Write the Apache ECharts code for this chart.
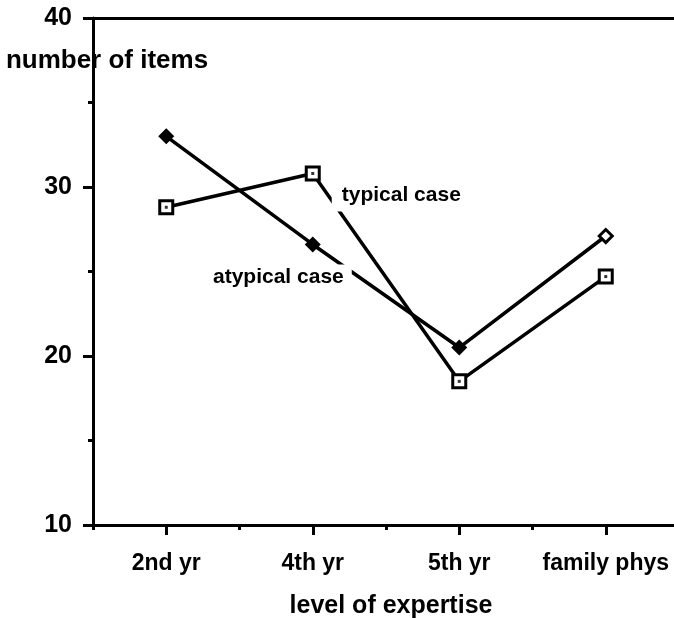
<!DOCTYPE html>
<html>
<head>
<meta charset="utf-8">
<script src="https://cdn.jsdelivr.net/npm/echarts@6/dist/echarts.min.js"></script>
<style>
  html, body { margin: 0; padding: 0; background: #fff; }
  #chart { width: 674px; height: 618px; }
</style>
</head>
<body>
<div id="chart"></div>
<script>
const categories = ['2nd yr', '4th yr', '5th yr', 'family phys'];
const typicalValues = [28.8, 30.8, 18.5, 24.7];
const atypicalValues = [33.0, 26.6, 20.5, 27.1];
const yMin = 10, yMax = 40, yStep = 10;

const font = 'Liberation Sans, Arial, sans-serif';
const ink = '#000';

const chart = echarts.init(document.getElementById('chart'));

// typical series: open squares, label on the 4th yr point
const typicalData = typicalValues.map((v, i) => {
  if (i !== 1) return v;
  return {
    value: v,
    label: {
      show: true,
      formatter: 'typical case',
      position: [27, 17],
      align: 'left',
      verticalAlign: 'top',
      color: ink,
      fontSize: 21,
      fontWeight: 'bold',
      fontFamily: font,
      backgroundColor: '#fff',
      padding: [2, 4, 6, 10]
    }
  };
});

// atypical series: filled diamonds, last one hollow
const atypicalData = atypicalValues.map((v, i) => {
  if (i === 1) {
    return {
      value: v,
      label: {
        show: true,
        formatter: 'atypical case',
        position: [47, 28],
        align: 'right',
        verticalAlign: 'top',
        color: ink,
        fontSize: 21,
        fontWeight: 'bold',
        fontFamily: font,
        backgroundColor: '#fff',
        padding: [2, 8, 2, 4]
      }
    };
  }
  if (i === atypicalValues.length - 1) {
    return { value: v, symbolSize: 13, itemStyle: { color: '#fff', borderColor: ink, borderWidth: 3 } };
  }
  return v;
});

const option = {
  animation: false,
  grid: { left: 93, top: 18, width: 586, bottom: 93, containLabel: false, outerBoundsMode: 'none' },
  xAxis: [
    {
      type: 'category',
      data: categories,
      boundaryGap: true,
      position: 'bottom',
      axisLine: { lineStyle: { color: ink, width: 3 } },
      axisTick: { show: true, alignWithLabel: true, interval: 0, length: 10, lineStyle: { color: ink, width: 3 } },
      axisLabel: { color: ink, fontSize: 23, fontWeight: 'bold', fontFamily: font, margin: 27, interval: 0, hideOverlap: false },
      name: 'level of expertise',
      nameLocation: 'middle',
      nameGap: 69,
      nameTextStyle: { color: ink, fontSize: 25, fontWeight: 'bold', fontFamily: font, padding: [0, 0, 0, 10] }
    },
    {
      // short ticks between categories
      type: 'category',
      data: categories,
      boundaryGap: true,
      position: 'bottom',
      axisLine: { show: false },
      axisTick: { show: true, interval: 0, length: 5, lineStyle: { color: ink, width: 3 } },
      axisLabel: { show: false }
    },
    {
      // top frame line
      type: 'category',
      data: categories,
      position: 'top',
      axisLine: { lineStyle: { color: ink, width: 3 } },
      axisTick: { show: false },
      axisLabel: { show: false }
    }
  ],
  yAxis: {
    type: 'value',
    min: yMin,
    max: yMax,
    interval: yStep,
    axisLine: { show: true, lineStyle: { color: ink, width: 3 } },
    axisTick: { show: true, length: 10, lineStyle: { color: ink, width: 3 } },
    minorTick: { show: true, splitNumber: 2, length: 5, lineStyle: { color: ink, width: 3 } },
    splitLine: { show: false },
    axisLabel: { color: ink, fontSize: 25, fontWeight: 'bold', fontFamily: font, margin: 21 },
    name: 'number of items',
    nameLocation: 'end',
    nameGap: -43,
    nameTextStyle: {
      color: ink, fontSize: 26, fontWeight: 'bold', fontFamily: font,
      align: 'center', verticalAlign: 'middle',
      backgroundColor: '#fff', padding: [2, 2, 2, 30]
    }
  },
  series: [
    {
      name: 'typical case',
      type: 'line',
      data: typicalData,
      symbol: 'rect',
      symbolSize: 13,
      showAllSymbol: true,
      lineStyle: { color: ink, width: 3.5 },
      itemStyle: { color: '#fff', borderColor: ink, borderWidth: 3 },
      emphasis: { disabled: true },
      z: 3
    },
    {
      name: 'typical dots',
      type: 'scatter',
      data: typicalValues,
      symbol: 'rect',
      symbolSize: 3,
      itemStyle: { color: ink },
      silent: true,
      z: 4
    },
    {
      name: 'atypical case',
      type: 'line',
      data: atypicalData,
      symbol: 'diamond',
      symbolSize: 16,
      showAllSymbol: true,
      lineStyle: { color: ink, width: 3.5 },
      itemStyle: { color: ink },
      emphasis: { disabled: true },
      z: 3
    }
  ]
};

chart.setOption(option);
</script>
</body>
</html>
